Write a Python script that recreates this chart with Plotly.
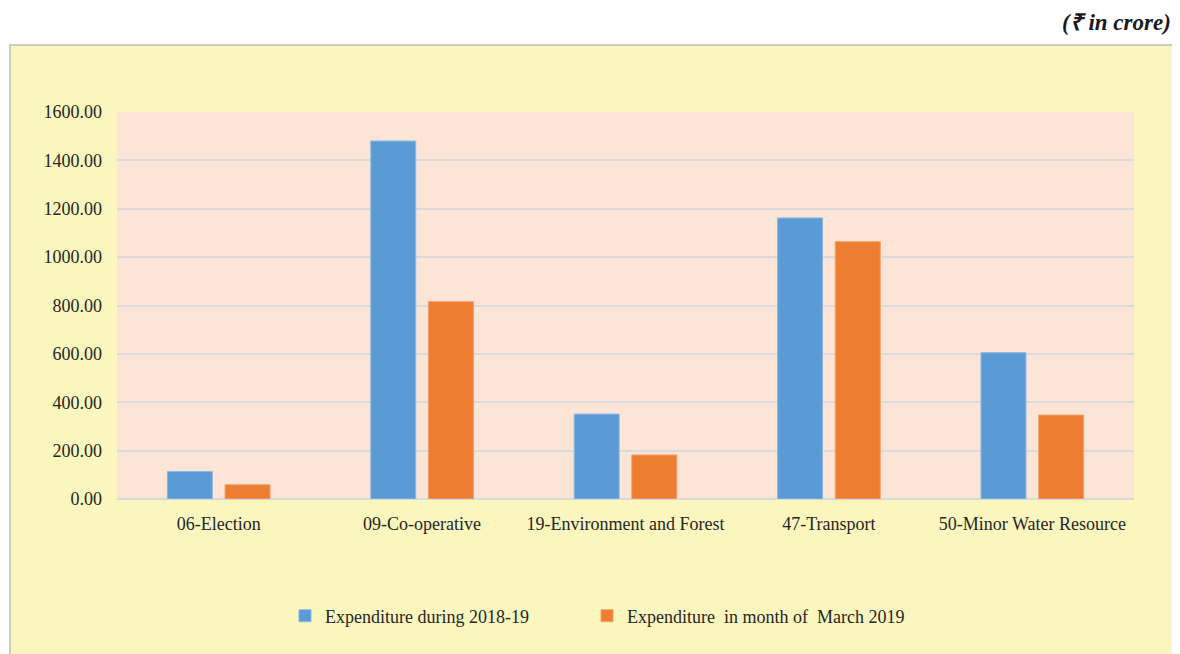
import plotly.graph_objects as go

categories = ["06-Election", "09-Co-operative", "19-Environment and Forest",
              "47-Transport", "50-Minor Water Resource"]
exp_2018_19 = [114, 1480, 351, 1162, 605]
exp_march_2019 = [59, 816, 182, 1064, 347]
series_names = ["Expenditure during 2018-19", "Expenditure  in month of  March 2019"]
y_ticks = [0, 200, 400, 600, 800, 1000, 1200, 1400, 1600]

BLUE = "#5B9BD5"
ORANGE = "#ED7D31"
FONT = "Liberation Serif, Times New Roman, serif"

# page has an 8px body margin, so the figure is a bit smaller than the window
W, H = 1172, 646
L, T, R, B = 109, 104, 46, 155
PW, PH = W - L - R, H - T - B


def px_x(x):
    return (x - 8 - L) / PW


def px_y(y):
    return (H - B - (y - 8)) / PH


def legend_at(x_text):
    # legend text sits ~40px right of the legend box edge
    return dict(orientation="h", x=px_x(x_text - 40), xanchor="left",
                y=px_y(616), yanchor="middle", bgcolor="rgba(0,0,0,0)",
                font=dict(size=18))


fig = go.Figure()
fig.add_trace(go.Bar(x=categories, y=exp_2018_19, name=series_names[0], legend="legend",
                     showlegend=True,
                     marker=dict(color=BLUE, line=dict(color="#8DB8E2", width=1))))
fig.add_trace(go.Bar(x=categories, y=exp_march_2019, name=series_names[1], legend="legend2",
                     showlegend=True,
                     marker=dict(color=ORANGE, line=dict(color="#F4A06A", width=1))))

fig.update_layout(
    width=W, height=H,
    margin=dict(l=L, r=R, t=T, b=B),
    paper_bgcolor="white",
    plot_bgcolor="rgba(0,0,0,0)",
    showlegend=True,
    barmode="group",
    bargap=0.433,
    bargroupgap=0.22,
    font=dict(family=FONT, size=18, color="#262626"),
    shapes=[
        # yellow chart area
        dict(type="rect", xref="paper", yref="paper", x0=px_x(10), x1=px_x(1178),
             y0=px_y(700), y1=px_y(45), fillcolor="#FAF6BE",
             line=dict(color="#BDBDBD", width=1.5), layer="below"),
        # peach plot area
        dict(type="rect", xref="paper", yref="paper", x0=0, x1=1, y0=0, y1=1,
             fillcolor="#FCE4D6", line=dict(width=0), layer="below"),
    ],
    legend=legend_at(325),
    legend2=legend_at(627),
    annotations=[
        dict(text="<b><i>(₹ in crore)</i></b>", xref="paper", yref="paper",
             x=px_x(1173), y=px_y(22), xanchor="right", yanchor="middle",
             showarrow=False, font=dict(size=23, color="#1a1a1a", family=FONT)),
    ],
)

fig.update_yaxes(range=[0, 1600], tickvals=y_ticks, tickformat=".2f",
                 showgrid=True, gridcolor="#DADADA", gridwidth=1.5,
                 zeroline=True, zerolinecolor="#DADADA", zerolinewidth=1.5,
                 ticks="", ticklabelstandoff=14, showline=False)
fig.update_xaxes(ticks="", ticklabelstandoff=12, showline=False, showgrid=False)

fig.write_html("out.html")
